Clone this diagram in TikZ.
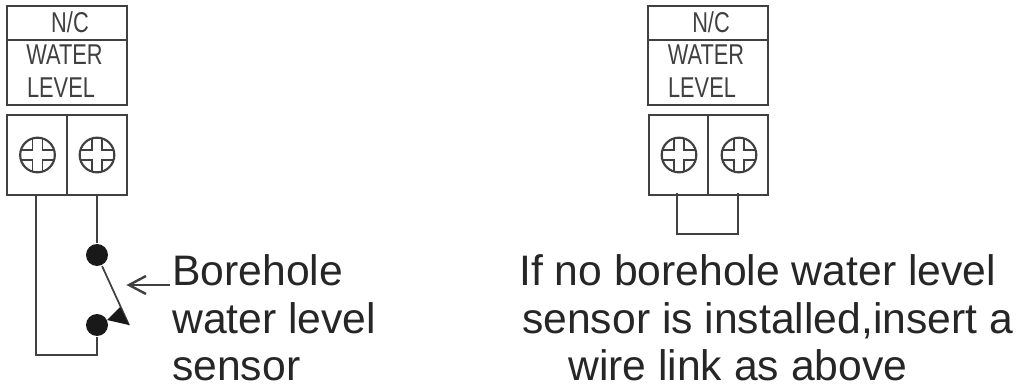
\documentclass[tikz,border=0pt]{standalone}
\usepackage{fontspec}
\setmainfont{Liberation Sans}
\newcommand{\tinylabel}[1]{\scalebox{0.76}[1]{\fontsize{21.5pt}{21.5pt}\selectfont #1}}
\newcommand{\bigfont}{\fontsize{32pt}{36pt}\selectfont}

\begin{document}
\begin{tikzpicture}[x=0.75pt, y=-0.75pt, line width=1.8pt, draw=black!75,
    screwhead/.style={circle, draw=black!75, line width=1.6pt, minimum size=26pt, inner sep=0pt,
        path picture={
            \foreach \sx/\sy in {1/1,1/-1,-1/1,-1/-1}
                \draw[black!75, line width=1.2pt, shift={(path picture bounding box.center)}]
                    (5*\sx,20*\sy) -- (5*\sx,5*\sy) -- (20*\sx,5*\sy);
        }},
    contactdot/.style={circle, fill=black!90, inner sep=0pt, minimum size=16.5pt},
    bigtext/.style={inner sep=0pt, anchor=base west, text=black!85, font=\bigfont},
    smalltext/.style={inner sep=0pt, anchor=base, text=black!75}]
    \useasboundingbox (0,0) rectangle (1016,388);

    % left terminal
    \draw (7,6) rectangle (127,105);
    \draw (7,40) -- (127,40);
    \node[smalltext] (nc1) at (70,33) {\tinylabel{N/C}};
    \node[smalltext] (water1) at (64.5,65) {\tinylabel{WATER}};
    \node[smalltext] (level1) at (61,98) {\tinylabel{LEVEL}};
    \draw (7,115) rectangle (127,195);
    \draw (67,115) -- (67,195);
    \node[screwhead] (screw1) at (37.5,155) {};
    \node[screwhead] (screw2) at (97,155) {};

    \coordinate (wire1) at (36,195);
    \coordinate (wire2) at (97,195);
    \node[contactdot] (dot1) at (97,255) {};
    \node[contactdot] (dot2) at (97,325) {};
    \coordinate (corner1) at (36,355);
    \coordinate (corner2) at (97,355);
    \draw (wire2) -- (dot1);
    \draw (wire1) -- (corner1) -- (corner2) -- (dot2);

    % switch blade and pointer
    \coordinate (tip) at (129,325);
    \draw[line width=1.3pt] (dot1) -- (tip);
    \fill[black!90] (120,307) -- (tip) -- (107,320) -- cycle;
    \coordinate (pointer) at (129,285);
    \coordinate (pointerend) at (170,285);
    \draw (pointerend) -- (pointer);
    \draw (146,276) -- (pointer) -- (146,294);

    \node[bigtext] (bore) at (171,285) {Borehole};
    \node[bigtext] (bore2) at (171,333) {water level};
    \node[bigtext] (bore3) at (171,380) {sensor};

    % right terminal
    \draw (648,6) rectangle (768,105);
    \draw (648,40) -- (768,40);
    \node[smalltext] (nc2) at (711,33) {\tinylabel{N/C}};
    \node[smalltext] (water2) at (706,65) {\tinylabel{WATER}};
    \node[smalltext] (level2) at (702,98) {\tinylabel{LEVEL}};
    \draw (649,115) rectangle (768,195);
    \draw (708,115) -- (708,195);
    \node[screwhead] (screw3) at (679,155) {};
    \node[screwhead] (screw4) at (739,155) {};

    \coordinate (link1) at (677,193);
    \coordinate (link2) at (738,193);
    \coordinate (link3) at (738,234);
    \coordinate (link4) at (677,234);
    \draw (link1) -- (link4) -- (link3) -- (link2);

    \node[bigtext] (note1) at (518,285) {If no borehole water level};
    \node[bigtext] (note2) at (521,333) {sensor is installed,insert a};
    \node[bigtext] (note3) at (567,380) {wire link as above};
\end{tikzpicture}
\end{document}
